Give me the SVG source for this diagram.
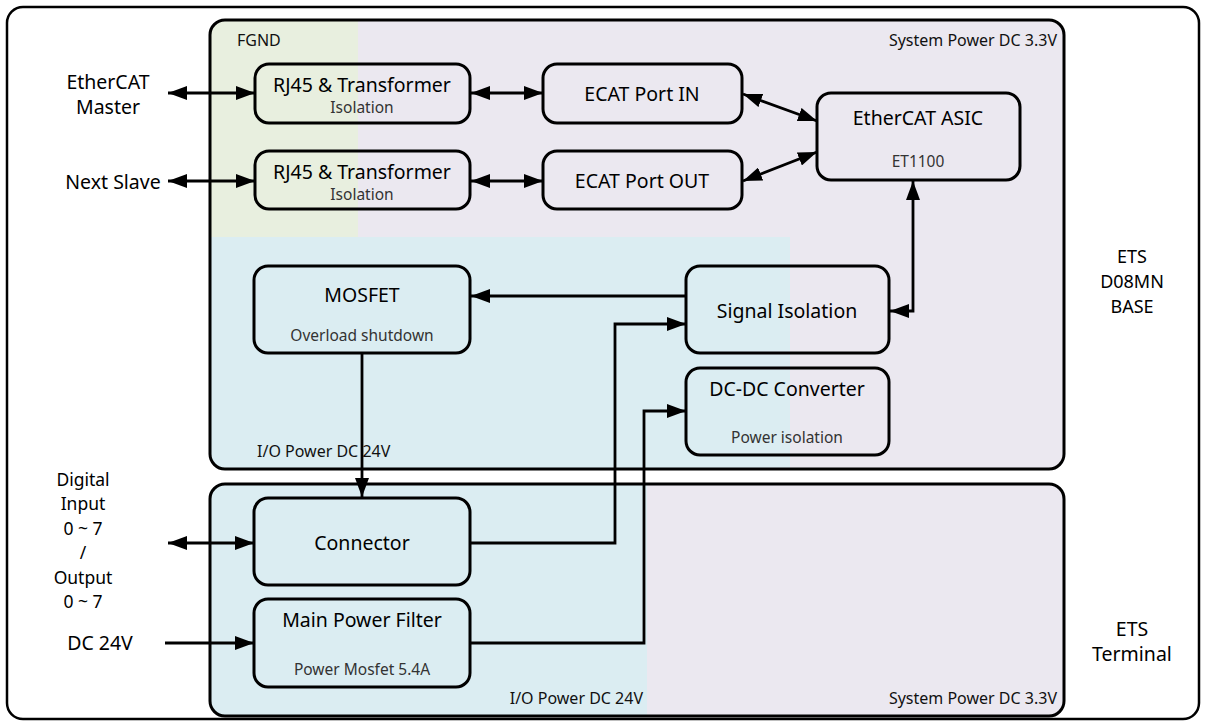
<svg xmlns="http://www.w3.org/2000/svg" width="1206" height="725" viewBox="0 0 1206 725">
<defs>
<marker id="ah" viewBox="0 0 19 14" refX="19" refY="7" markerWidth="19" markerHeight="14" markerUnits="userSpaceOnUse" orient="auto-start-reverse">
<path d="M0,0 L19,7 L0,14 Z" fill="#000"/>
</marker>
<clipPath id="topclip"><rect x="210" y="20" width="854" height="449" rx="15"/></clipPath>
<clipPath id="botclip"><rect x="210" y="484" width="854" height="232" rx="15"/></clipPath>
</defs>
<style>
text{font-family:"Noto Sans","Open Sans","Liberation Sans",sans-serif;fill:#000}
.t{font-size:19.5px;text-anchor:middle}
.s{font-size:15.5px;text-anchor:middle;fill:#333}
.z{font-size:16px;fill:#111}
.o{font-size:19.5px;text-anchor:middle}
.d{font-size:17.5px;text-anchor:middle}
.e{font-size:18px;text-anchor:middle}
.box{fill:none;stroke:#000;stroke-width:3}
.c{fill:none;stroke:#000;stroke-width:2.8}
</style>
<rect x="0" y="0" width="1206" height="725" fill="#fff"/>
<rect x="7" y="7" width="1192" height="712" rx="16" fill="none" stroke="#000" stroke-width="2.5"/>

<g id="panel-top">
<g clip-path="url(#topclip)">
<rect x="210" y="20" width="854" height="449" fill="#ebe8f0"/>
<rect x="210" y="20" width="148" height="217" fill="#e8efdf"/>
<rect x="210" y="237" width="580" height="232" fill="#dbedf2"/>
</g>
<rect x="210" y="20" width="854" height="449" rx="15" fill="none" stroke="#000" stroke-width="3"/>
<text class="z" x="237" y="46">FGND</text>
<text class="z" x="1057" y="46" text-anchor="end">System Power DC 3.3V</text>
<text class="z" x="257" y="457">I/O Power DC 24V</text>
</g>

<g id="panel-bottom">
<g clip-path="url(#botclip)">
<rect x="210" y="484" width="854" height="232" fill="#ebe8f0"/>
<rect x="210" y="484" width="437" height="232" fill="#dbedf2"/>
</g>
<rect x="210" y="484" width="854" height="232" rx="15" fill="none" stroke="#000" stroke-width="3"/>
<text class="z" x="643" y="704" text-anchor="end">I/O Power DC 24V</text>
<text class="z" x="1057" y="704" text-anchor="end">System Power DC 3.3V</text>
</g>

<g id="rj45-1"><rect class="box" x="255" y="64" width="215" height="59" rx="14"/><text class="t" x="362" y="92">RJ45 &amp; Transformer</text><text class="s" x="362" y="113">Isolation</text></g>
<g id="rj45-2"><rect class="box" x="255" y="151" width="215" height="58" rx="14"/><text class="t" x="362" y="179">RJ45 &amp; Transformer</text><text class="s" x="362" y="200">Isolation</text></g>
<g id="ecat-in"><rect class="box" x="543" y="64" width="199" height="59" rx="14"/><text class="t" x="642" y="101">ECAT Port IN</text></g>
<g id="ecat-out"><rect class="box" x="543" y="151" width="199" height="58" rx="14"/><text class="t" x="642" y="188">ECAT Port OUT</text></g>
<g id="asic"><rect class="box" x="817" y="93" width="203" height="87" rx="14"/><text class="t" x="918" y="125">EtherCAT ASIC</text><text class="s" x="918" y="167">ET1100</text></g>
<g id="mosfet"><rect class="box" x="254" y="266" width="216" height="87" rx="14"/><text class="t" x="362" y="302">MOSFET</text><text class="s" x="362" y="341">Overload shutdown</text></g>
<g id="signal-iso"><rect class="box" x="686" y="266" width="203" height="87" rx="14"/><text class="t" x="787" y="318">Signal Isolation</text></g>
<g id="dcdc"><rect class="box" x="686" y="368" width="203" height="87" rx="14"/><text class="t" x="787" y="396">DC-DC Converter</text><text class="s" x="787" y="443">Power isolation</text></g>
<g id="connector"><rect class="box" x="254" y="498" width="216" height="87" rx="14"/><text class="t" x="362" y="550">Connector</text></g>
<g id="mpf"><rect class="box" x="254" y="599" width="216" height="88" rx="14"/><text class="t" x="362" y="627">Main Power Filter</text><text class="s" x="362" y="675">Power Mosfet 5.4A</text></g>

<g id="labels">
<text class="o" x="108" y="89">EtherCAT</text>
<text class="o" x="108" y="114">Master</text>
<text class="o" x="113" y="189">Next Slave</text>
<text class="e" x="1132" y="263">ETS</text>
<text class="e" x="1132" y="288">D08MN</text>
<text class="e" x="1132" y="313">BASE</text>
<text class="o" x="1132" y="636">ETS</text>
<text class="o" x="1132" y="661">Terminal</text>
<text class="d" x="83" y="486">Digital</text>
<text class="d" x="83" y="510">Input</text>
<text class="d" x="83" y="535">0 ~ 7</text>
<text class="d" x="83" y="559">/</text>
<text class="d" x="83" y="584">Output</text>
<text class="d" x="83" y="608">0 ~ 7</text>
<text class="o" x="100" y="650">DC 24V</text>
</g>

<g id="connectors">
<line class="c" x1="168" y1="93" x2="255" y2="93" marker-start="url(#ah)" marker-end="url(#ah)"/>
<line class="c" x1="168" y1="181" x2="255" y2="181" marker-start="url(#ah)" marker-end="url(#ah)"/>
<line class="c" x1="471" y1="93" x2="543" y2="93" marker-start="url(#ah)" marker-end="url(#ah)"/>
<line class="c" x1="471" y1="181" x2="543" y2="181" marker-start="url(#ah)" marker-end="url(#ah)"/>
<line class="c" x1="743" y1="94" x2="817" y2="121" marker-start="url(#ah)" marker-end="url(#ah)"/>
<line class="c" x1="743" y1="181" x2="817" y2="152" marker-start="url(#ah)" marker-end="url(#ah)"/>
<polyline class="c" points="890,311 913,311 913,181" marker-start="url(#ah)" marker-end="url(#ah)"/>
<line class="c" x1="686" y1="296" x2="471" y2="296" marker-end="url(#ah)"/>
<line class="c" x1="362" y1="353" x2="362" y2="497" marker-end="url(#ah)"/>
<polyline class="c" points="470,543 615,543 615,324 686,324" marker-end="url(#ah)"/>
<polyline class="c" points="470,643 644,643 644,411 686,411" marker-end="url(#ah)"/>
<line class="c" x1="168" y1="543" x2="254" y2="543" marker-start="url(#ah)" marker-end="url(#ah)"/>
<line class="c" x1="165" y1="643" x2="254" y2="643" marker-end="url(#ah)"/>
</g>
</svg>
